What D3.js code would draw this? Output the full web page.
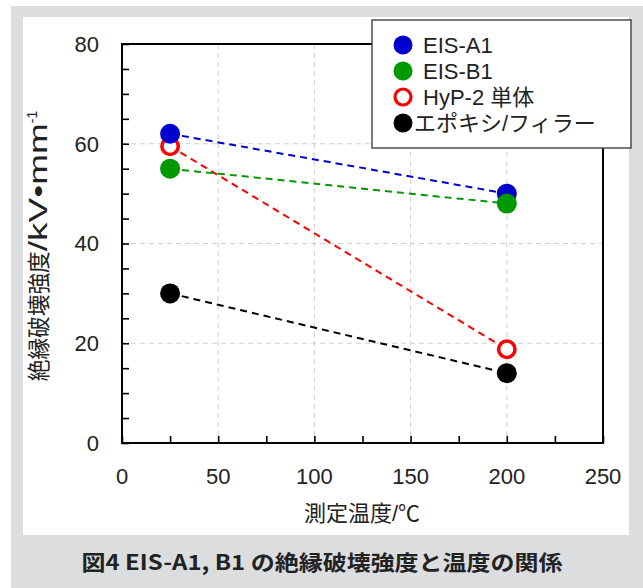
<!DOCTYPE html>
<html><head><meta charset="utf-8">
<script src="https://cdn.jsdelivr.net/npm/d3@7"></script>
<style>
html,body{margin:0;padding:0;background:#fff;}
text{font-family:"Liberation Sans","Noto Sans CJK JP",Arial,sans-serif;fill:#222;}
</style></head>
<body>
<svg id="chart" width="643" height="588"></svg>
<script>
// ---- data ----
const temps = [25, 200];
const seriesNames = ["EIS-A1", "EIS-B1", "HyP-2 単体", "エポキシ/フィラー"];
const valuesA1 = [62, 50];
const valuesB1 = [55, 48];
const valuesHyP = [59.5, 18.8];
const valuesEpoxy = [30, 14];
const xTicks = [0, 50, 100, 150, 200, 250];
const yTicks = [0, 20, 40, 60, 80];
const xLabel = "測定温度/℃";
const yLabelCJK = "絶縁破壊強度";
const yLabelUnit = "/kV•mm";
const yLabelExp = "-1";
const caption = "図4 EIS-A1, B1 の絶縁破壊強度と温度の関係";

const series = [
  {name: seriesNames[2], values: valuesHyP, color: "#ff0000", open: true},
  {name: seriesNames[0], values: valuesA1, color: "#0000cc", open: false},
  {name: seriesNames[1], values: valuesB1, color: "#009900", open: false},
  {name: seriesNames[3], values: valuesEpoxy, color: "#000000", open: false}
];
const legendOrder = [1, 2, 0, 3];

const svg = d3.select("#chart");

// background frame
svg.append("rect").attr("x", 11).attr("y", 6).attr("width", 632).attr("height", 582).attr("fill", "#dcdddf");
svg.append("rect").attr("x", 23).attr("y", 17).attr("width", 606).attr("height", 518).attr("fill", "#ffffff");

const x = d3.scaleLinear().domain([0, 250]).range([122, 603]);
const y = d3.scaleLinear().domain([0, 80]).range([443, 44]);

// grid
const grid = svg.append("g");
grid.selectAll("line.vx").data(xTicks.slice(1, -1)).enter().append("line")
  .attr("x1", d => x(d)).attr("x2", d => x(d)).attr("y1", y(80)).attr("y2", y(0))
  .attr("stroke", "#cfcfcf").attr("stroke-width", 1).attr("stroke-dasharray", "5,4");
grid.selectAll("line.hy").data(yTicks.slice(1, -1)).enter().append("line")
  .attr("y1", d => y(d)).attr("y2", d => y(d)).attr("x1", x(0)).attr("x2", x(250))
  .attr("stroke", "#cfcfcf").attr("stroke-width", 1).attr("stroke-dasharray", "5,4");

// axes with inward ticks
const yAxis = d3.axisRight(y).tickValues(d3.range(0, 81, 5)).tickSize(7).tickFormat("");
const gy = svg.append("g").attr("transform", `translate(${x(0)},0)`).call(yAxis);
const xAxis = d3.axisTop(x).tickValues(d3.range(0, 251, 25)).tickSize(7).tickFormat("");
const gx = svg.append("g").attr("transform", `translate(0,${y(0)})`).call(xAxis);
[gy, gx].forEach(g => {
  g.select(".domain").remove();
  g.selectAll(".tick line").attr("stroke", "#000").attr("stroke-width", 1.6);
});
// frame box
svg.append("rect").attr("x", x(0)).attr("y", y(80)).attr("width", x(250) - x(0)).attr("height", y(0) - y(80))
  .attr("fill", "none").attr("stroke", "#000").attr("stroke-width", 2);

// tick labels
svg.selectAll("text.yt").data(yTicks).enter().append("text")
  .attr("x", 99).attr("y", d => y(d)).attr("dy", "0.36em").attr("text-anchor", "end")
  .attr("font-size", 22).text(d => d);
svg.selectAll("text.xt").data(xTicks).enter().append("text")
  .attr("x", d => x(d)).attr("y", 484).attr("text-anchor", "middle")
  .attr("font-size", 22).text(d => d);

// axis titles
svg.append("text").attr("x", 362).attr("y", 521).attr("text-anchor", "middle")
  .attr("font-size", 22).text(xLabel);
const yl = svg.append("text").attr("transform", "translate(47,246) rotate(-90)")
  .attr("text-anchor", "middle");
yl.append("tspan").attr("font-size", 23).attr("textLength", 130).attr("lengthAdjust", "spacingAndGlyphs").text(yLabelCJK);
yl.append("tspan").attr("font-size", 25).attr("textLength", 128).attr("lengthAdjust", "spacingAndGlyphs").text(yLabelUnit);
yl.append("tspan").attr("dy", -10).attr("font-size", 14).text(yLabelExp);

// lines
const line = d3.line().x((d, i) => x(temps[i])).y(d => y(d));
series.forEach(s => {
  svg.append("path").attr("d", line(s.values)).attr("fill", "none")
    .attr("stroke", s.color).attr("stroke-width", 2).attr("stroke-dasharray", "7,5");
});
// markers
series.forEach(s => {
  svg.selectAll(null).data(s.values).enter().append("circle")
    .attr("cx", (d, i) => x(temps[i])).attr("cy", d => y(d))
    .attr("r", s.open ? 8.2 : 10)
    .attr("fill", s.open ? "#fff" : s.color)
    .attr("stroke", s.open ? s.color : "none")
    .attr("stroke-width", s.open ? 3.6 : 0);
});

// legend
const lg = svg.append("g");
lg.append("rect").attr("x", 372).attr("y", 20).attr("width", 259).attr("height", 128)
  .attr("fill", "#fff").attr("stroke", "#333").attr("stroke-width", 1.3);
legendOrder.forEach((si, k) => {
  const s = series[si];
  const cy = 45 + k * 26;
  lg.append("circle").attr("cx", 403).attr("cy", cy)
    .attr("r", s.open ? 8 : 9.5)
    .attr("fill", s.open ? "#fff" : s.color)
    .attr("stroke", s.open ? s.color : "none")
    .attr("stroke-width", s.open ? 3.2 : 0);
  lg.append("text").attr("x", si === 3 ? 414 : 423).attr("y", cy).attr("dy", "0.36em")
    .attr("font-size", 22).text(s.name);
});

// caption
svg.append("text").attr("x", 322).attr("y", 570).attr("text-anchor", "middle")
  .attr("font-size", 21).attr("font-weight", "bold")
  .attr("textLength", 481).attr("lengthAdjust", "spacingAndGlyphs")
  .style("font-family", "'Noto Sans CJK JP','Liberation Sans',sans-serif")
  .text(caption);
</script>
</body></html>
